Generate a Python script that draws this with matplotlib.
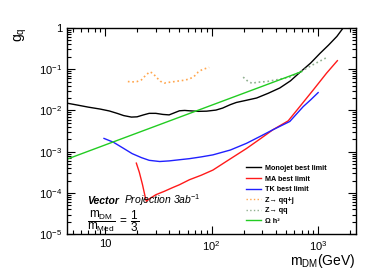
import matplotlib
matplotlib.use("Agg")
import matplotlib.pyplot as plt
from matplotlib.ticker import LogLocator, FixedLocator, NullFormatter
from matplotlib.lines import Line2D

plt.rcParams['font.family'] = ['Liberation Sans', 'DejaVu Sans']
plt.rcParams['mathtext.fontset'] = 'custom'
plt.rcParams['mathtext.rm'] = 'Liberation Sans'
plt.rcParams['mathtext.it'] = 'Liberation Sans:italic'
plt.rcParams['mathtext.bf'] = 'Liberation Sans:bold'

# data
mono_x = [4.4, 5.5, 7, 9, 11, 13, 15, 17.7, 20, 23, 26, 30, 35, 40, 45, 50, 56, 62, 75, 90,
          110, 127, 150, 171, 210, 265, 340, 437, 550, 673, 850, 1040, 1250, 1500, 1720]
mono_y = [0.015, 0.0135, 0.012, 0.0108, 0.0097, 0.0085, 0.0075, 0.0069, 0.0070, 0.0078,
          0.0085, 0.0085, 0.0080, 0.0078, 0.0088, 0.0098, 0.0100, 0.0098, 0.0095, 0.0096,
          0.0102, 0.0114, 0.0138, 0.0156, 0.0175, 0.020, 0.026, 0.035, 0.052, 0.083,
          0.14, 0.24, 0.38, 0.62, 1.0]

ma_x = [19.7, 21, 22.5, 24, 24.5, 26, 30, 36, 43, 50, 62, 80, 103, 140, 213, 290, 376,
        524, 673, 897, 1200, 1515]
ma_y = [0.00053, 0.00032, 0.00016, 0.000075, 0.000063, 0.000072, 0.000091, 0.00011,
        0.000135, 0.000159, 0.00021, 0.00027, 0.00036, 0.0006, 0.0012, 0.0021, 0.0034,
        0.0056, 0.0124, 0.031, 0.08, 0.16]

tk_x = [9.8, 12, 15, 18, 22, 26, 32.6, 40, 50, 62, 80, 103, 150, 213, 290, 376, 542,
        725, 850, 1000]
tk_y = [0.0021, 0.0017, 0.0012, 0.0009, 0.00072, 0.00062, 0.00058, 0.0006, 0.00064,
        0.00068, 0.00075, 0.00084, 0.0011, 0.0016, 0.0024, 0.0034, 0.0054, 0.0124,
        0.018, 0.027]

zqqj_x = [16.4, 18, 20, 22, 24, 26.3, 28, 30, 33, 36, 40, 45, 50, 56, 62, 68, 75, 82, 95]
zqqj_y = [0.050, 0.049, 0.050, 0.055, 0.070, 0.086, 0.080, 0.066, 0.051, 0.046, 0.048,
          0.050, 0.052, 0.054, 0.058, 0.065, 0.085, 0.098, 0.11]

zqq_x = [198, 215, 240, 265, 330, 420, 540, 673, 890, 1225]
zqq_y = [0.064, 0.053, 0.045, 0.048, 0.050, 0.056, 0.064, 0.085, 0.127, 0.195]

omega_x = [4.4, 700]
omega_y = [0.00066, 0.087]

fig = plt.figure(figsize=(3.74, 2.70), dpi=100)
ax = fig.add_axes([0.179, 0.132, 0.772, 0.765])

ax.plot(mono_x, mono_y, color='black', lw=1.0)
ax.plot(ma_x, ma_y, color='#ff1a1a', lw=1.0)
ax.plot(tk_x, tk_y, color='#2020ff', lw=1.0)
ax.plot(zqqj_x, zqqj_y, color='#ffa64d', lw=1.2, ls=':')
ax.plot(zqq_x, zqq_y, color='#90b090', lw=1.2, ls=':')
ax.plot(omega_x, omega_y, color='#22cc22', lw=1.0)

ax.set_xscale('log')
ax.set_yscale('log')
ax.set_xlim(4.4, 2250)
ax.set_ylim(1e-5, 1)

ax.xaxis.set_major_locator(FixedLocator([10, 100, 1000]))
ax.set_xticklabels(['10', '$10^2$', '$10^3$'])
ax.xaxis.set_minor_locator(LogLocator(base=10, subs=range(2, 10)))
ax.xaxis.set_minor_formatter(NullFormatter())
ax.yaxis.set_major_locator(FixedLocator([1e-5, 1e-4, 1e-3, 1e-2, 1e-1, 1]))
ax.set_yticklabels(['$10^{-5}$', '$10^{-4}$', '$10^{-3}$', '$10^{-2}$', '$10^{-1}$', '1'])
ax.yaxis.set_minor_locator(LogLocator(base=10, subs=range(2, 10)))
ax.yaxis.set_minor_formatter(NullFormatter())

ax.tick_params(which='both', direction='in', top=True, right=True, labelsize=8, width=0.8)
ax.tick_params(which='major', length=6)
ax.tick_params(which='minor', length=3)
for s in ax.spines.values():
    s.set_linewidth(1.0)

ax.set_ylabel('g$_\\mathrm{q}$', fontsize=10, rotation=90, loc='top')
ax.yaxis.set_label_coords(-0.13, 1.0)
ax.set_xlabel('m$_\\mathrm{DM}$(GeV)', fontsize=10, loc='right')
ax.xaxis.set_label_coords(1.0, -0.085)

ax.text(0.07, 0.148, 'Vector', transform=ax.transAxes, fontsize=7.5,
        fontweight='bold', fontstyle='italic')
ax.text(0.197, 0.148, 'Projection 3ab$^{-1}$', transform=ax.transAxes, fontsize=7.5,
        fontstyle='italic')
ax.text(0.07, 0.066, r'$\dfrac{\mathrm{m_{DM}}}{\mathrm{m_{Med}}}\;=\;\dfrac{1}{3}$',
        transform=ax.transAxes, fontsize=8.5, va='center')

handles = [
    Line2D([], [], color='black', lw=1.0),
    Line2D([], [], color='#ff1a1a', lw=1.0),
    Line2D([], [], color='#2020ff', lw=1.0),
    Line2D([], [], color='#ffa64d', lw=1.0, ls=':'),
    Line2D([], [], color='#90b090', lw=1.0, ls=':'),
    Line2D([], [], color='#22cc22', lw=1.0),
]
labels = ['Monojet best limit', 'MA best limit', 'TK best limit',
          'Z\u2192 qq+j', 'Z\u2192 qq', '\u03a9 h\u00b2']
leg = ax.legend(handles, labels, loc='upper left', bbox_to_anchor=(0.621, 0.336),
                frameon=False, prop={'size': 5.2, 'weight': 'bold'},
                handlelength=2.1, handletextpad=0.5, labelspacing=0.48,
                borderpad=0, borderaxespad=0)

fig.savefig('out.png', dpi=100)
